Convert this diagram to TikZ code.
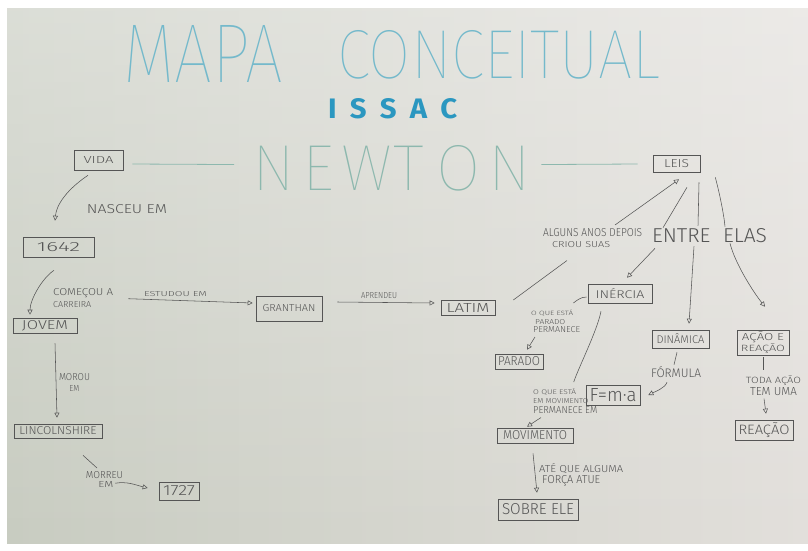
\documentclass[tikz,border=0pt]{standalone}
\usepackage{fontspec}
\setmainfont{Fira Sans}
\newfontfamily\penfont{Fira Sans Light}
\newfontfamily\thinfont{Fira Sans Thin}
\usetikzlibrary{arrows.meta,fadings}

\definecolor{pencil}{HTML}{555555}
\definecolor{titleblue}{HTML}{74B9CB}
\definecolor{issacblue}{HTML}{2B97C0}
\definecolor{newtongreen}{HTML}{8DB8AE}
\definecolor{paperL}{RGB}{200,204,193}
\definecolor{paperM}{RGB}{222,221,215}
\definecolor{paperR}{RGB}{226,223,219}

% hand lettering: text squeezed into a given width and height (in pt)
\newcommand\handtext[3]{\resizebox{#1pt}{#2pt}{\penfont #3}}

\tikzset{
  box/.style={draw=pencil, line width=0.6pt, inner sep=0pt, text=pencil},
  lbl/.style={inner sep=0pt, text=pencil, align=center},
  link/.style={draw=pencil, line width=0.55pt},
  arr/.style={link, -{Triangle[open, length=5pt, width=5pt]}},
  nline/.style={draw=newtongreen, line width=0.8pt},
}

\begin{document}
\begin{tikzpicture}[x=1pt,y=-1pt]
\useasboundingbox (0,0) rectangle (808,550);

% sheet of paper
\fill[white] (0,0) rectangle (808,550);
\shade[left color=paperL, middle color=paperM, right color=paperR] (7,8) rectangle (808,543);
\fill[white, opacity=0.35, path fading=south] (7,8) rectangle (808,543);

% heading
\node[inner sep=0pt, anchor=north west, text=titleblue] (mapa) at (123,25)
  {\resizebox{160pt}{57pt}{\thinfont MAPA}};
\node[inner sep=0pt, anchor=north west, text=titleblue] (conceitual) at (337,30)
  {\resizebox{323pt}{48pt}{\thinfont CONCEITUAL}};
\node[inner sep=0pt, anchor=north west, text=issacblue] (issac) at (328,98)
  {\resizebox{129pt}{20pt}{\bfseries I\hspace{0.45em}S\hspace{0.45em}S\hspace{0.45em}A\hspace{0.45em}C}};
\node[inner sep=0pt, anchor=north west, text=newtongreen] (newton) at (252,145)
  {\resizebox{279pt}{45pt}{\thinfont N\hspace{0.12em}E\hspace{0.12em}W\hspace{0.02em}T\hspace{0.2em}O\hspace{0.12em}N}};

% concept boxes
\node[box, minimum width=49pt, minimum height=20pt] (vida) at (98.5,160) {\handtext{30}{7}{VIDA}};
\node[box, minimum width=71pt, minimum height=20pt] (y1642) at (58.5,247) {\handtext{43}{9}{1642}};
\node[box, minimum width=64pt, minimum height=15pt] (jovem) at (45,325.5) {\handtext{46}{9}{JOVEM}};
\node[box, minimum width=66pt, minimum height=25pt] (granthan) at (289,308.5) {\handtext{53}{7}{GRANTHAN}};
\node[box, minimum width=54pt, minimum height=15pt] (latim) at (468,307.5) {\handtext{43}{9}{LATIM}};
\node[box, minimum width=88pt, minimum height=14pt] (lincoln) at (58,431) {\handtext{77}{8}{LINCOLNSHIRE}};
\node[box, minimum width=40pt, minimum height=18pt] (y1727) at (179,491) {\handtext{32}{10}{1727}};
\node[box, minimum width=47pt, minimum height=17pt] (leis) at (676.5,163.5) {\handtext{25}{8}{LEIS}};
\node[box, minimum width=64pt, minimum height=19pt] (inercia) at (620,293.5) {\handtext{49}{10}{INÉRCIA}};
\node[box, minimum width=48pt, minimum height=15pt] (parado) at (519,361.5) {\handtext{42}{9}{PARADO}};
\node[box, minimum width=54pt, minimum height=20pt] (fma) at (613,395) {\handtext{47}{13}{F=m·a}};
\node[box, minimum width=57pt, minimum height=18pt] (dinamica) at (680.5,339) {\handtext{48}{10}{DINÂMICA}};
\node[box, minimum width=52pt, minimum height=25pt, align=center, font=\fontsize{1}{11}\selectfont] (acao) at (763,342.5)
  {\handtext{42}{9}{AÇÃO E}\\\handtext{44}{8}{REAÇÃO}};
\node[box, minimum width=58pt, minimum height=20pt] (reacao) at (764,430) {\handtext{51}{12}{REAÇÃO}};
\node[box, minimum width=76pt, minimum height=15pt] (movimento) at (535,435.5) {\handtext{64}{9}{MOVIMENTO}};
\node[box, minimum width=80pt, minimum height=21pt] (sobre) at (538,509.5) {\handtext{72}{11}{SOBRE ELE}};

% linking phrases
\node[lbl] (nasceu) at (127,209.5) {\handtext{80}{9}{NASCEU EM}};
\node[lbl, align=left, anchor=north west, font=\fontsize{1}{12}\selectfont] (comecou) at (53,288)
  {\handtext{60}{7}{COMEÇOU A}\\\handtext{38}{6}{CARREIRA}};
\node[lbl] (estudou) at (175.5,294.5) {\handtext{63}{5}{ESTUDOU EM}};
\node[lbl] (aprendeu) at (379,296) {\handtext{36}{6}{APRENDEU}};
\node[lbl, anchor=north, font=\fontsize{1}{11}\selectfont] (morou) at (74.5,373)
  {\handtext{31}{7}{MOROU}\\\handtext{10}{6}{EM}};
\node[lbl, anchor=north, font=\fontsize{1}{9}\selectfont] (morreu) at (104.5,471)
  {\handtext{37}{7}{MORREU}\\\hspace*{3pt}\handtext{15}{6}{EM}};
\node[lbl, align=left, anchor=north west, font=\fontsize{1}{11}\selectfont] (alguns) at (543,228)
  {\handtext{99}{8}{ALGUNS ANOS DEPOIS}\\\hspace*{9pt}\handtext{58}{6}{CRIOU SUAS}};
\node[lbl] (entre) at (709.5,236) {\handtext{115}{14}{ENTRE\hspace{0.6em}ELAS}};
\node[lbl, align=left, anchor=north west, font=\fontsize{1}{8.5}\selectfont] (oqueparado) at (531,310)
  {\handtext{42}{5.5}{O QUE ESTÁ}\\\hspace*{4pt}\handtext{30}{5}{PARADO}\\\hspace*{2pt}\handtext{47}{6}{PERMANECE}};
\node[lbl, align=left, anchor=north west, font=\fontsize{1}{9.5}\selectfont] (oquemov) at (533,388)
  {\handtext{43}{6}{O QUE ESTÁ}\\\handtext{55}{5}{EM MOVIMENTO}\\\handtext{64}{7}{PERMANECE EM}};
\node[lbl] (formula) at (676,372.5) {\handtext{50}{11}{FÓRMULA}};
\node[lbl, align=left, anchor=north west, font=\fontsize{1}{11}\selectfont] (ate) at (539,463)
  {\handtext{84}{9}{ATÉ QUE ALGUMA}\\\hspace*{3pt}\handtext{58}{8}{FORÇA ATUE}};
\node[lbl, anchor=north, font=\fontsize{1}{12}\selectfont] (toda) at (773.5,375)
  {\handtext{55}{8}{TODA AÇÃO}\\\handtext{47}{8}{TEM UMA}};

% rules on both sides of the name
\draw[nline] ([shift={(9,4)}]vida.east) -- ([shift={(-18,-3.5)}]newton.west);
\draw[nline] ([shift={(10,-3.5)}]newton.east) -- ([shift={(-15,0.5)}]leis.west);

% life
\draw[arr] ([shift={(-10.5,5)}]vida.south) .. controls +(-15,10) and +(2,-20) .. ([shift={(-3.5,-16)}]y1642.north);
\draw[arr] ([shift={(-4.5,13)}]y1642.south) .. controls +(-12,8) and +(0,-15) .. ([shift={(-15,-3)}]jovem.north);
\draw[arr] ([shift={(51,-19)}]jovem.north east) -- ([shift={(-3,-5.5)}]granthan.west);
\draw[arr] ([shift={(15,-6.5)}]granthan.east) -- ([shift={(-6,-4.5)}]latim.west);
\draw[arr] ([shift={(10,10)}]jovem.south) -- ([shift={(-1,-6)}]lincoln.north);
\draw[link] ([shift={(25,17)}]lincoln.south) -- ([shift={(-7.5,-3)}]morreu.north);
\draw[arr] ([shift={(-8,4)}]morreu.east) .. controls +(12,-2) and +(-12,-3) .. ([shift={(-11,-3)}]y1727.west);

% laws
\draw[link] ([shift={(18,-7.5)}]latim.east) -- ([shift={(24,13)}]alguns.south west);
\draw[arr] ([shift={(72,-3)}]alguns.north west) -- ([shift={(2.5,7)}]leis.south);
\draw[link] ([shift={(10.5,15)}]leis.south) -- ([shift={(-46.5,-1)}]entre.north);
\draw[link] ([shift={(22.5,10)}]leis.south) -- ([shift={(-11.5,-3)}]entre.north);
\draw[link] ([shift={(15,5)}]leis.south east) .. controls +(4,15) and +(-1,-12) .. ([shift={(15.5,-2)}]entre.north);
\draw[arr] ([shift={(20.5,0)}]entre.south) .. controls +(5,20) and +(-12,-15) .. ([shift={(2,-23)}]acao.north);
\draw[arr] ([shift={(-54.5,5)}]entre.south) -- ([shift={(7,-6)}]inercia.north);
\draw[arr] ([shift={(-15.5,3)}]entre.south) -- ([shift={(8.5,-6)}]dinamica.north);

% inertia
\draw[link] ([shift={(-1,3.5)}]inercia.west) .. controls +(-6,0) and +(4,-3) .. ([shift={(-7,-7)}]oqueparado.north east);
\draw[arr] ([shift={(4,4)}]oqueparado.south west) -- ([shift={(8,-4)}]parado.north);
\draw[link] ([shift={(-19,8)}]inercia.south) .. controls +(-4,20) and +(5,-15) .. ([shift={(8.5,-6)}]oquemov.north);
\draw[arr] ([shift={(8,4)}]oquemov.south west) -- ([shift={(-8,-1)}]movimento.north);
\draw[arr] ([shift={(-2,10)}]movimento.south) -- ([shift={(-1,-6)}]sobre.north);

% dynamics
\draw[link] ([shift={(-3.5,4)}]dinamica.south) -- ([shift={(-2,-2)}]formula.north);
\draw[arr] ([shift={(-9,4)}]formula.south) .. controls +(-2,6) and +(6,-3) .. ([shift={(8,0)}]fma.east);

% action and reaction
\draw[link] ([shift={(0,2)}]acao.south) -- ([shift={(-10.5,-5)}]toda.north);
\draw[arr] ([shift={(-9.5,3)}]toda.south) -- ([shift={(2,-6)}]reacao.north);
\end{tikzpicture}
\end{document}
